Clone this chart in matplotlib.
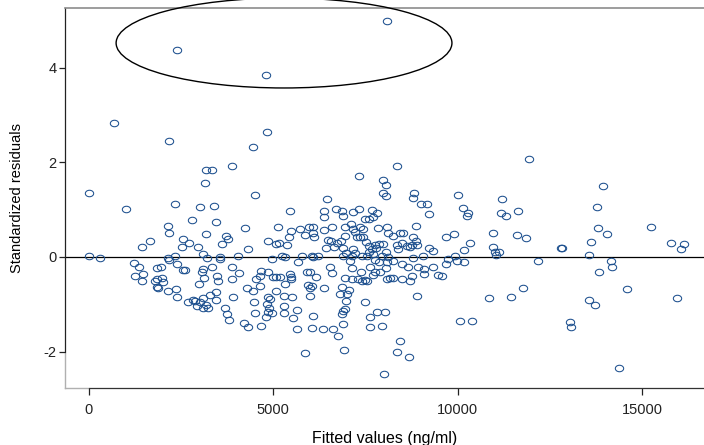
import matplotlib
matplotlib.use("Agg")
import matplotlib.pyplot as plt
from matplotlib.path import Path
from matplotlib.transforms import Affine2D
from matplotlib.patches import Ellipse
from matplotlib.lines import Line2D

plt.rcParams['font.family'] = ['Liberation Sans', 'DejaVu Sans']
plt.rcParams['axes.unicode_minus'] = False

# fitted concentration (ng/ml) and standardized residual of each observation
fitted = [
    8080, 2390, 4800, 680, 4820, 2180, 4440, 3890, 3170, 3350,
    3140, 10, 4500, 1010, 2340, 3000, 3390, 5440, 2790, 3450,
    2150, 2170, 4240, 5140, 3170, 3720, 3760, 5490, 5720, 5970,
    6080, 5430, 5860, 4850, 2550, 2720, 3600, 2950, 5070, 5160,
    5380, 4320, 3100, 3210, 3560, 4040, 4960, 5230, 5320, 5790,
    6040, 3560, 1660, 1430, 2520, 10, 300, 2150, 2340,
    # 6000-9500 band above zero
    8360, 7330, 7970, 8050, 7980, 8050, 8810, 8790, 6450, 9000,
    9170, 6370, 6360, 6690, 6870, 7170, 7320, 7680, 7800, 7710,
    7600, 7490, 6900, 9230, 6370, 6600, 6940, 7100, 7170, 7350,
    7440, 7210, 7830, 8070, 8120, 8240, 8430, 8510, 8870, 6070,
    6100, 6940, 7260, 7350, 7440, 6490, 6560, 6830, 6720, 6430,
    6650, 6900, 7150, 7210, 6970, 7510, 7600, 7760, 7850, 7980,
    7780, 7670, 7600, 8050, 8360, 8480, 8620, 8750, 8790, 8870,
    8890, 8710, 8390, 9230, 9320, 7710,
    # 10000-13000
    11940, 10010, 11200, 10130, 10280, 10240, 11160, 11300, 11630, 9680,
    9900, 10950, 11610, 11850, 10330, 10170, 10940, 11010, 11120, 12800,
    12820,
    # above 13000
    13920, 13780, 13790, 14050, 15230, 13610, 15780, 16130, 16050,
    # low fitted, negative residuals
    1230, 1360, 1250, 1460, 1430, 1840, 1960, 1790, 1860, 1980,
    2000, 1860, 1880, 2180, 2400, 2550, 2140, 2360, 2380,
    2610, 3060, 3100, 3330, 3120, 2990, 3480, 3510, 3870, 4080,
    3890, 2700, 2810, 2880, 3010, 2920, 3100, 3170, 3240, 3100,
    3290, 3450, 3450, 3690, 3740, 3810, 3920, 4210, 4310, 4670,
    4280, 4440, 4520, 4670, 4640, 4640, 4860, 4480, 4500, 4850,
    4910, 4820, 4880, 4850, 4960, 4800, 5000, 5070, 5180, 5070,
    5680, 5320, 5450, 5480, 5480, 5910, 5930, 5290, 5500, 5290,
    5300, 5650, 5540, 5630, 5860,
    # 6000-9500 below zero
    6080, 6220, 6900, 7080, 7140, 7400, 7530, 7760, 7850, 7940,
    8070, 8120, 8250, 8480, 8660, 8790, 8930, 9070, 9080, 9320,
    9050, 6540, 6580, 6160, 6000, 7130, 7380, 7620, 7760, 7710,
    7890, 8050, 6940, 7130, 7290, 7400, 7490, 7550, 8090, 8160,
    8250, 8480, 8710, 8750, 6040, 6000, 6380, 6000, 6870, 6810,
    6990, 7060, 6970, 6940, 6900, 6850, 7490, 6070, 6040, 6340,
    6630, 6900, 6760, 7620, 7820, 8030, 7620, 7940, 8890, 6920,
    8430, 8360, 8680, 8010,
    # 9500 and above, below zero
    9730, 9920, 9970, 10180, 9670, 9470, 9560, 11030, 12180, 10850,
    11440, 11760, 10070, 10390,
    13560, 14140, 14170, 13830, 14590, 15930, 13560, 13720, 13040, 13070,
    14380,
]
std_resid = [
    4.99, 4.38, 3.85, 2.82, 2.63, 2.46, 2.33, 1.92, 1.84, 1.84,
    1.56, 1.36, 1.31, 1.02, 1.12, 1.06, 1.08, 0.96, 0.79, 0.73,
    0.66, 0.50, 0.61, 0.63, 0.49, 0.44, 0.38, 0.54, 0.58, 0.63,
    0.64, 0.42, 0.47, 0.34, 0.37, 0.29, 0.27, 0.21, 0.27, 0.29,
    0.26, 0.17, 0.06, -0.03, -0.01, 0.01, -0.05, 0.01, -0.01, 0.01,
    0.01, -0.05, 0.34, 0.20, 0.22, 0.01, -0.02, -0.03, 0.01,
    1.92, 1.71, 1.63, 1.52, 1.36, 1.29, 1.36, 1.24, 1.22, 1.12,
    1.12, 0.97, 0.85, 1.01, 0.98, 0.94, 1.01, 0.99, 0.92, 0.84,
    0.81, 0.80, 0.87, 0.91, 0.57, 0.63, 0.63, 0.70, 0.59, 0.63,
    0.59, 0.53, 0.61, 0.64, 0.50, 0.44, 0.50, 0.50, 0.65, 0.50,
    0.42, 0.44, 0.42, 0.42, 0.42, 0.36, 0.34, 0.34, 0.29, 0.18,
    0.21, 0.18, 0.17, 0.09, 0.09, 0.32, 0.23, 0.25, 0.27, 0.27,
    0.18, 0.16, 0.11, 0.11, 0.25, 0.29, 0.23, 0.25, 0.43, 0.34,
    0.25, 0.21, 0.16, 0.18, 0.13, 0.06,
    2.07, 1.30, 1.23, 1.03, 0.92, 0.87, 0.92, 0.87, 0.97, 0.43,
    0.49, 0.51, 0.46, 0.39, 0.29, 0.15, 0.22, 0.11, 0.11, 0.18,
    0.19,
    1.49, 1.06, 0.62, 0.49, 0.63, 0.32, 0.30, 0.27, 0.17,
    -0.13, -0.22, -0.40, -0.36, -0.51, -0.24, -0.22, -0.50, -0.47, -0.45,
    -0.52, -0.63, -0.66, -0.06, -0.15, -0.28, -0.71, -0.68, -0.84,
    -0.27, -0.31, -0.26, -0.22, -0.44, -0.58, -0.40, -0.51, -0.21, -0.34,
    -0.47, -0.96, -0.92, -0.94, -0.96, -1.04, -0.86, -1.01, -1.07, -1.08,
    -0.80, -0.75, -0.91, -1.07, -1.21, -1.33, -0.84, -1.39, -1.49, -1.47,
    -0.66, -0.71, -0.47, -0.29, -0.40, -0.61, -0.32, -0.96, -1.19, -0.84,
    -0.89, -0.99, -1.07, -1.17, -1.19, -1.26, -0.42, -0.42, -0.42, -0.72,
    -0.11, -0.58, -0.36, -0.42, -0.47, -0.32, -0.59, -0.82, -0.85, -1.03,
    -1.19, -1.12, -1.30, -1.52, -2.02,
    -0.01, 0.01, 0.01, -0.08, 0.01, 0.01, 0.01, -0.06, -0.11, 0.01,
    -0.10, -0.01, -0.08, -0.15, -0.22, -0.03, -0.21, -0.25, -0.37, -0.21,
    0.01, -0.22, -0.33, -0.42, -0.31, -0.23, -0.32, -0.21, -0.32, -0.38,
    -0.31, -0.23, -0.44, -0.47, -0.47, -0.51, -0.49, -0.50, -0.47, -0.44,
    -0.45, -0.47, -0.50, -0.40, -0.61, -0.66, -0.65, -0.82, -0.64, -0.78,
    -0.78, -0.70, -0.93, -1.10, -1.14, -1.21, -0.96, -1.25, -1.51, -1.52,
    -1.52, -1.42, -1.68, -1.27, -1.16, -1.16, -1.49, -1.47, -0.82, -1.96,
    -1.78, -2.01, -2.12, -2.48,
    -0.04, 0.01, -0.08, -0.10, -0.15, -0.38, -0.40, 0.04, -0.08, -0.87,
    -0.84, -0.66, -1.35, -1.36,
    0.03, -0.08, -0.22, -0.32, -0.67, -0.86, -0.92, -1.01, -1.37, -1.49,
    -2.35,
]

xticks = [0, 5000, 10000, 15000]
yticks = [-2, 0, 2, 4]
xlim = (-645, 16670)
ylim = (-2.77, 5.26)

# outlying group marked by an ellipse: centre, width, height
outlier_centre = (5290, 4.52)
outlier_width = 9100
outlier_height = 1.90

blue = '#1c4f8e'

fig = plt.figure(figsize=(7.04, 4.45), dpi=100)
ax = fig.add_axes([65 / 704, 1 - 388 / 445, 1 - 65 / 704, 380 / 445])

# slightly flattened hollow circle
oval = Path.unit_circle().transformed(Affine2D().scale(1.0, 0.78))
ax.plot(fitted, std_resid, linestyle='none', marker=oval, markersize=6.0,
        markerfacecolor='none', markeredgecolor=blue, markeredgewidth=0.75,
        zorder=3)

ax.axhline(0, color='black', lw=0.9, zorder=2)

ax.add_patch(Ellipse(outlier_centre, outlier_width, outlier_height,
                     fill=False, edgecolor='black', lw=1.0, clip_on=False,
                     zorder=4))

ax.set_xlim(*xlim)
ax.set_ylim(*ylim)
ax.set_xticks(xticks)
ax.set_yticks(yticks)
ax.set_xticklabels([str(v) for v in xticks])
ax.set_yticklabels([str(v) for v in yticks])

# plot region outline in grey, axis lines dark over their tick range
ax.spines['right'].set_visible(False)
ax.spines['top'].set_color('#8c8c8c')
ax.spines['top'].set_linewidth(1.2)
ax.spines['left'].set_color('#222222')
ax.spines['bottom'].set_color('#333333')
ax.spines['left'].set_bounds(-2, ylim[1])
ax.spines['bottom'].set_bounds(0, xlim[1])
ax.add_line(Line2D([0, 0], [0, 1], transform=ax.transAxes, color='#b0b0b0',
                   lw=1.0, clip_on=False, zorder=1))
ax.add_line(Line2D([0, 1], [0, 0], transform=ax.transAxes, color='#b0b0b0',
                   lw=1.0, clip_on=False, zorder=1))

ax.tick_params(axis='x', direction='out', length=5, width=0.9, pad=6,
               labelsize=10.5, colors='#222222')
ax.tick_params(axis='y', direction='out', length=4, width=0.9, pad=2,
               labelsize=10.5, colors='#222222')

ax.set_xlabel('Fitted values (ng/ml)', fontsize=11.5, labelpad=10)
ax.set_ylabel('Standardized residuals', fontsize=10.5, labelpad=14)

fig.savefig('out.png', dpi=100)
